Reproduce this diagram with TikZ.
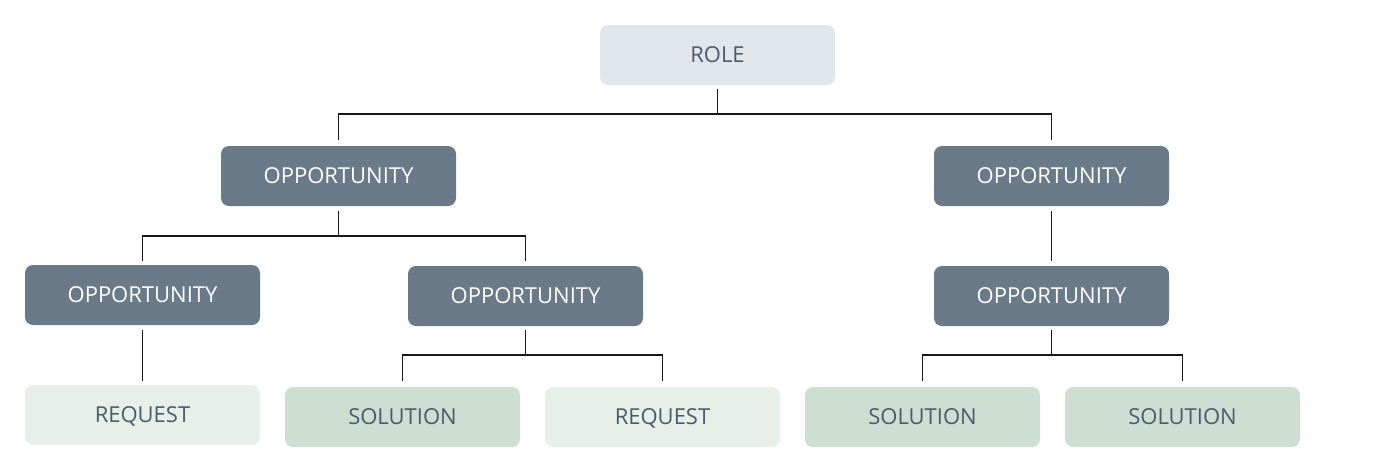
\documentclass[tikz,border=0pt]{standalone}
\usepackage{fontspec}
\setmainfont{Open Sans}
\definecolor{rolefill}{HTML}{E1E6EC}
\definecolor{oppfill}{HTML}{6B7A89}
\definecolor{reqfill}{HTML}{E6EFE8}
\definecolor{solfill}{HTML}{CDDFD2}
\definecolor{txt}{HTML}{4A5B6C}
\begin{document}
\begin{tikzpicture}[x=1pt,y=1pt,
  box/.style={rectangle,rounded corners=8pt,minimum width=235pt,minimum height=60pt,inner sep=0pt,text height=15.6pt,text depth=0pt,font=\fontsize{22}{26}\selectfont},
  rolebox/.style={box,fill=rolefill,text=txt},
  oppbox/.style={box,fill=oppfill,text=white},
  reqbox/.style={box,fill=reqfill,text=txt},
  solbox/.style={box,fill=solfill,text=txt},
  conn/.style={draw=black!90,line width=1.5pt}]
\useasboundingbox (0,0) rectangle (1400,-472);
\node[rolebox] (role) at (717.5,-55) {ROLE};
\node[oppbox] (o1) at (338.5,-176) {OPPORTUNITY};
\node[oppbox] (o2) at (1051.5,-176) {OPPORTUNITY};
\node[oppbox] (o3) at (142.5,-295) {OPPORTUNITY};
\node[oppbox] (o4) at (525.5,-296) {OPPORTUNITY};
\node[oppbox] (o5) at (1051.5,-296) {OPPORTUNITY};
\node[reqbox] (r1) at (142.5,-415) {REQUEST};
\node[solbox] (s1) at (402.5,-417) {SOLUTION};
\node[reqbox] (r2) at (662.5,-417) {REQUEST};
\node[solbox] (s2) at (922.5,-417) {SOLUTION};
\node[solbox] (s3) at (1182.5,-417) {SOLUTION};
% role -> o1, o2
\draw[conn] ([yshift=-4pt]role.south) -- ([yshift=-29pt]role.south);
\draw[conn] ([yshift=6pt]o1.north) |- ([yshift=-29pt]role.south) -| ([yshift=6pt]o2.north);
% o1 -> o3, o4
\draw[conn] ([yshift=-5pt]o1.south) -- ([yshift=-30pt]o1.south);
\draw[conn] ([yshift=4pt]o3.north) |- ([yshift=-30pt]o1.south) -| ([yshift=5pt]o4.north);
% o2 -> o5
\draw[conn] ([yshift=-5pt]o2.south) -- ([yshift=5pt]o5.north);
% o3 -> r1
\draw[conn] ([yshift=-5pt]o3.south) -- ([yshift=4pt]r1.north);
% o4 -> s1, r2
\draw[conn] ([yshift=-4pt]o4.south) -- ([yshift=-29pt]o4.south);
\draw[conn] ([yshift=6pt]s1.north) |- ([yshift=-29pt]o4.south) -| ([yshift=6pt]r2.north);
% o5 -> s2, s3
\draw[conn] ([yshift=-4pt]o5.south) -- ([yshift=-29pt]o5.south);
\draw[conn] ([yshift=6pt]s2.north) |- ([yshift=-29pt]o5.south) -| ([yshift=6pt]s3.north);
\end{tikzpicture}
\end{document}
